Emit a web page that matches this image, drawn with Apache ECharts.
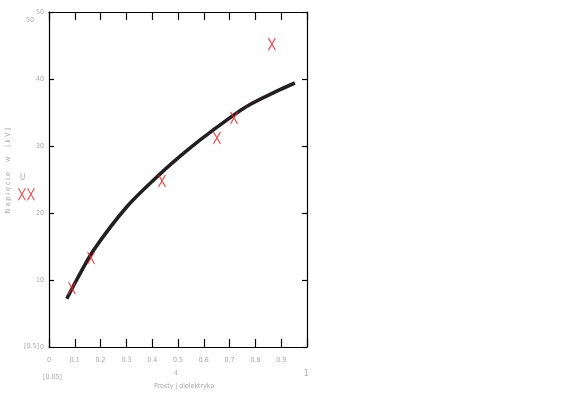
<!DOCTYPE html>
<html><head><meta charset="utf-8">
<script src="https://cdn.jsdelivr.net/npm/echarts@6/dist/echarts.min.js"></script>
<style>html,body{margin:0;padding:0;background:#fff}#c{width:566px;height:397px}</style>
</head><body><div id="c"></div>
<script>
// measured points (red X markers)
const pointX = [0.089, 0.163, 0.438, 0.651, 0.717, 0.864, -0.105, -0.07];
const pointY = [8.8, 13.3, 24.8, 31.2, 34.2, 45.2, 22.8, 22.8];
// fitted curve
const curveX = [0.069, 0.107, 0.172, 0.301, 0.430, 0.534, 0.637, 0.766, 0.895, 0.953];
const curveY = [7.2, 10.0, 14.4, 20.9, 25.8, 29.3, 32.4, 35.9, 38.4, 39.4];
const xTicks = [0, 0.1, 0.2, 0.3, 0.4, 0.5, 0.6, 0.7, 0.8, 0.9];
const yTicks = [0, 10, 20, 30, 40, 50];
const yTitle = 'N a p i ę c i e     w     [ k V ]';
const xTitle = 'Prosty j dielektryka';

const FONT = '"DejaVu Sans Condensed", "Liberation Sans", sans-serif';
const GRAY = '#a8a8a8';
const chart = echarts.init(document.getElementById('c'), null, {renderer: 'canvas'});
const points = pointX.map((x, i) => [x, pointY[i]]);
const curve = curveX.map((x, i) => [x, curveY[i]]);
const xSym = 'path://M0,0L10,14M10,0L0,14';
const lineCfg = {show: true, onZero: false, lineStyle: {color: '#000', width: 1.2}};
chart.setOption({
  animation: false,
  backgroundColor: '#fff',
  grid: {left: 49, right: 259, top: 12, bottom: 50},
  xAxis: [{
    type: 'value', min: 0, max: 1, interval: 0.1,
    axisLine: lineCfg,
    axisTick: {show: true, inside: true, length: 8, lineStyle: {color: '#000', width: 1.2}},
    splitLine: {show: false},
    axisLabel: {color: GRAY, fontSize: 7, fontFamily: FONT, margin: 10,
      formatter: v => xTicks.some(t => Math.abs(t - v) < 1e-6) ? String(Math.round(v * 10) / 10) : ''}
  }, {
    type: 'value', min: 0, max: 1, interval: 0.1, position: 'top',
    axisLine: lineCfg,
    axisTick: {show: true, inside: true, length: 8, lineStyle: {color: '#000', width: 1.2}},
    axisLabel: {show: false}, splitLine: {show: false}
  }],
  yAxis: [{
    type: 'value', min: 0, max: 50, interval: 10,
    axisLine: lineCfg,
    axisTick: {show: true, inside: true, length: 5, lineStyle: {color: '#000', width: 1.2}},
    splitLine: {show: false},
    axisLabel: {color: GRAY, fontSize: 7, fontFamily: FONT, margin: 5,
      formatter: v => yTicks.includes(v) ? String(v) : ''}
  }, {
    type: 'value', min: 0, max: 50, interval: 10, position: 'right',
    axisLine: lineCfg,
    axisTick: {show: true, inside: true, length: 5, lineStyle: {color: '#000', width: 1.2}},
    axisLabel: {show: false}, splitLine: {show: false}
  }],
  series: [{
    type: 'line', data: curve, smooth: 0.3, showSymbol: false, symbol: 'none',
    lineStyle: {color: '#231f20', width: 3.6}, z: 2
  }, {
    type: 'scatter', data: points, symbol: xSym, symbolSize: [7, 12], clip: false,
    itemStyle: {color: 'rgba(0,0,0,0)', borderColor: '#e0262b', borderWidth: 1.3}, z: 3
  }],
  graphic: [
    {type: 'text', left: 5, top: 128, rotation: Math.PI / 2,
      style: {text: yTitle, fill: GRAY, font: '7px ' + FONT}},
    {type: 'text', x: 20, y: 174, style: {text: 'U', fill: GRAY, font: '8px ' + FONT}},
    {type: 'text', x: 26, y: 17, style: {text: '50', fill: GRAY, font: '7px ' + FONT}},
    {type: 'text', x: 24, y: 343, style: {text: '[0.5]', fill: GRAY, font: '7px ' + FONT}},
    {type: 'text', x: 43, y: 374, style: {text: '[0.05]', fill: GRAY, font: '7px ' + FONT}},
    {type: 'text', x: 174, y: 370, style: {text: '4', fill: GRAY, font: '7px ' + FONT}},
    {type: 'text', x: 304, y: 370, style: {text: '1', fill: GRAY, font: '8px ' + FONT}},
    {type: 'text', x: 154, y: 383, style: {text: xTitle, fill: GRAY, font: '7px ' + FONT}}
  ]
});
</script></body></html>
